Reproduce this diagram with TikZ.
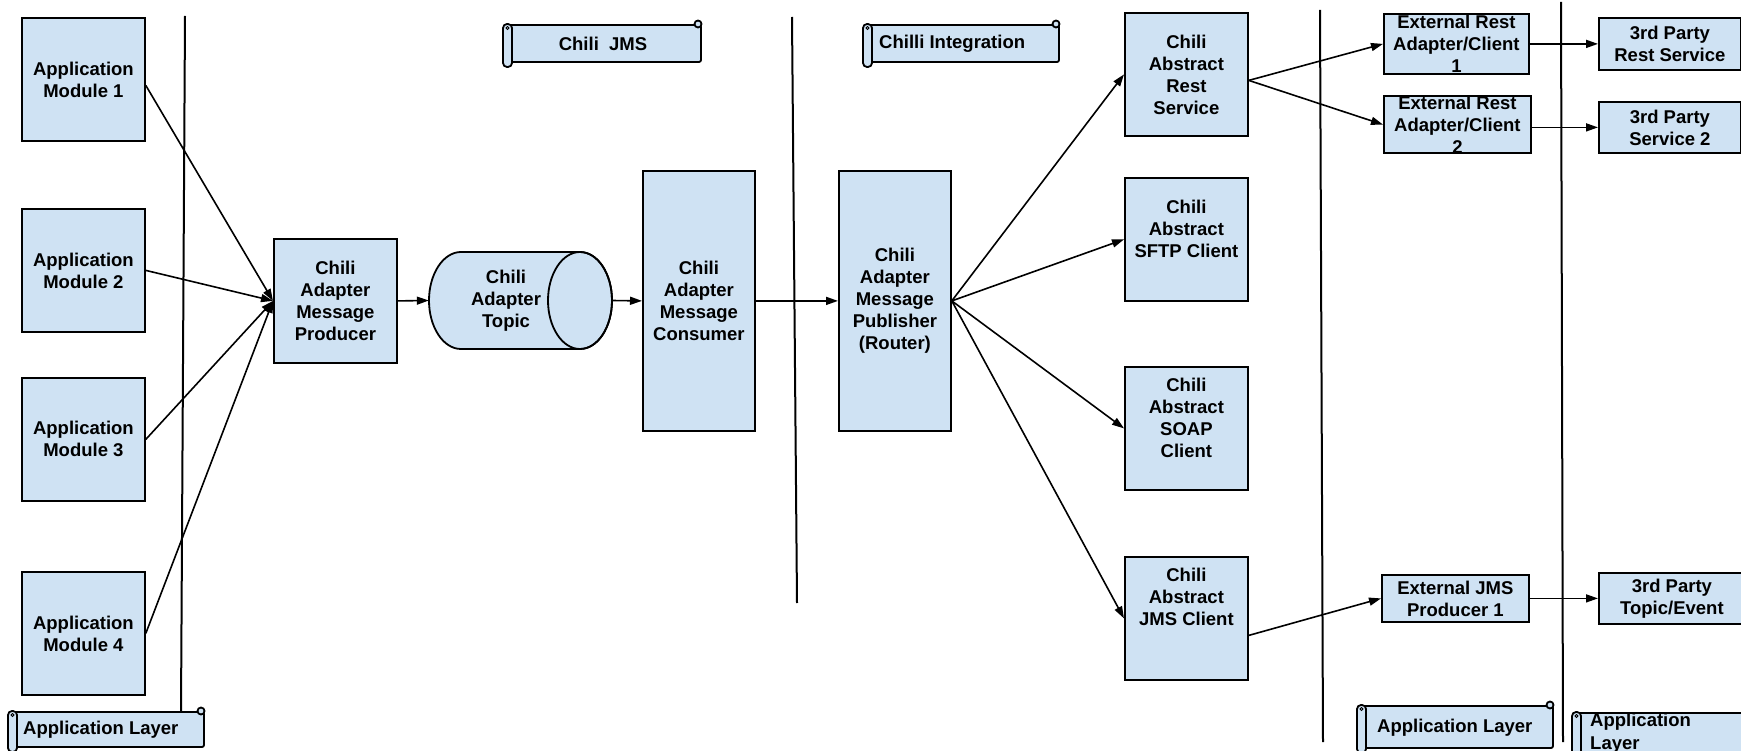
\documentclass[tikz,border=0pt]{standalone}
\usepackage{fontspec}
\setmainfont{Liberation Sans}
\usetikzlibrary{arrows.meta,calc}
\definecolor{boxblue}{HTML}{CFE2F3}
\tikzset{
  box/.style={draw=black, fill=boxblue, line width=1.8pt, align=center,
    font=\fontsize{18.5pt}{22pt}\selectfont\bfseries, inner sep=0pt, anchor=north west},
  arr/.style={line width=1.6pt, -{Triangle[length=12pt,width=8pt]}},
  sepline/.style={line width=2pt},
  scrollfill/.style={draw=black, fill=boxblue, line width=1.8pt},
  lbl/.style={font=\fontsize{18.5pt}{22pt}\selectfont\bfseries, inner sep=0pt}
}
\newcommand\hscroll[4]{%
  \filldraw[scrollfill, rounded corners=2pt] (#1+4,#2+5) rectangle (#3,#4-5);
  \filldraw[scrollfill, rounded corners=4pt] (#1,#2+4) rectangle (#1+9,#4);
  \draw[line width=1pt] (#1+4.5,#2+8) circle[radius=1.5pt];
  \filldraw[scrollfill] (#3-3,#2+4) circle[radius=3.5pt];
}
\begin{document}
\begin{tikzpicture}[x=1pt,y=-1pt]
\useasboundingbox (0,0) rectangle (1741,751);
\clip (0,0) rectangle (1741,751);

% separators
\draw[sepline] (185,16) -- (181,711);
\draw[sepline] (792,17) -- (797,603);
\draw[sepline] (1320,10) -- (1323,742);
\draw[sepline] (1561,2) -- (1563,742);

% scrolls
\hscroll{503}{20}{701}{67}
\node[lbl] (jmsT) at (603,43.5) {Chili\ \ JMS};
\hscroll{863}{20}{1059}{67}
\node[lbl, anchor=west] (intT) at (879,43.5) {Chilli Integration};
\hscroll{8}{707}{204}{752}
\node[lbl, anchor=west] (app1T) at (23,730) {Application Layer};
\hscroll{1357}{701}{1553}{753}
\node[lbl, anchor=west] (app2T) at (1377,728) {Application Layer};
\hscroll{1572}{708}{1760}{770}
\node[lbl, anchor=north west, align=left, font=\fontsize{18.5pt}{23pt}\selectfont\bfseries] (app3T) at (1590,712.8) {Application\\Layer};

% boxes
\node[box, minimum width=123pt, minimum height=123pt] (am1) at (21,17) {Application\\Module 1};
\node[box, minimum width=123pt, minimum height=123pt] (am2) at (21,208) {Application\\Module 2};
\node[box, minimum width=123pt, minimum height=123pt] (am3) at (21,377) {Application\\Module 3};
\node[box, minimum width=123pt, minimum height=123pt] (am4) at (21,571) {Application\\Module 4};
\node[box, minimum width=123pt, minimum height=124pt] (prod) at (273,238) {Chili\\Adapter\\Message\\Producer};

% cylinder
\filldraw[scrollfill] (461,252) -- (580,252)
  arc[start angle=90, end angle=-90, x radius=32pt, y radius=48.5pt]
  -- (461,349)
  arc[start angle=270, end angle=90, x radius=32pt, y radius=48.5pt] -- cycle;
\draw[line width=1.8pt] (580,300.5) ellipse [x radius=32pt, y radius=48.5pt];
\node[lbl, align=center, minimum width=154pt, minimum height=97pt] (cyl) at (506,300.5) {Chili\\Adapter\\Topic};
\coordinate (cylE) at (612,300.5);

\node[box, minimum width=112pt, minimum height=260pt] (cons) at (642,170) {Chili\\Adapter\\Message\\Consumer};
\node[box, minimum width=112pt, minimum height=260pt] (pub) at (838,170) {Chili\\Adapter\\Message\\Publisher\\(Router)};

\node[box, minimum width=123pt, minimum height=123pt] (rest) at (1124,12) {Chili\\Abstract\\Rest\\Service};
\node[box, minimum width=123pt, minimum height=123pt] (sftp) at (1124,177) {Chili\\Abstract\\SFTP Client\\\mbox{}};
\node[box, minimum width=123pt, minimum height=123pt] (soap) at (1124,366) {Chili\\Abstract\\SOAP\\Client\\\mbox{}};
\node[box, minimum width=123pt, minimum height=123pt] (jms) at (1124,556) {Chili\\Abstract\\JMS Client\\\mbox{}\\\mbox{}};

\node[box, minimum width=145pt, minimum height=60pt] (ext1) at (1383,13) {External Rest\\Adapter/Client\\1};
\node[box, minimum width=147pt, minimum height=56pt] (ext2) at (1383,95) {External Rest\\Adapter/Client\\2};
\node[box, minimum width=142pt, minimum height=52pt] (tp1) at (1598,17) {3rd Party\\Rest Service};
\node[box, minimum width=142pt, minimum height=51pt] (tp2) at (1598,101) {3rd Party\\Service 2};
\node[box, minimum width=147pt, minimum height=47pt] (extjms) at (1381,574) {External JMS\\Producer 1};
\node[box, minimum width=146pt, minimum height=51pt] (tp3) at (1598,572) {3rd Party\\Topic/Event};

% connectors
\draw[arr] ([yshift=-6pt]am1.east) -- (prod.west);
\draw[arr] (am2.east) -- (prod.west);
\draw[arr] (am3.east) -- (prod.west);
\draw[arr] (am4.east) -- (prod.west);
\draw[arr] (prod.east) -- (cyl.west);
\draw[arr] (cylE) -- (cons.west);
\draw[arr] (cons.east) -- (pub.west);
\draw[arr] (pub.east) -- (rest.west);
\draw[arr] (pub.east) -- (sftp.west);
\draw[arr] (pub.east) -- (soap.west);
\draw[arr] (pub.east) -- (jms.west);
\draw[arr] ([yshift=-6pt]rest.east) -- (ext1.west);
\draw[arr] ([yshift=-6pt]rest.east) -- (ext2.west);
\draw[arr] ([yshift=-17pt]jms.east) -- (extjms.west);
\draw[arr] (ext1.east) -- (tp1.west);
\draw[arr] (ext2.east |- tp2.west) -- (tp2.west);
\draw[arr] (extjms.east) -- (tp3.west);
\end{tikzpicture}
\end{document}
